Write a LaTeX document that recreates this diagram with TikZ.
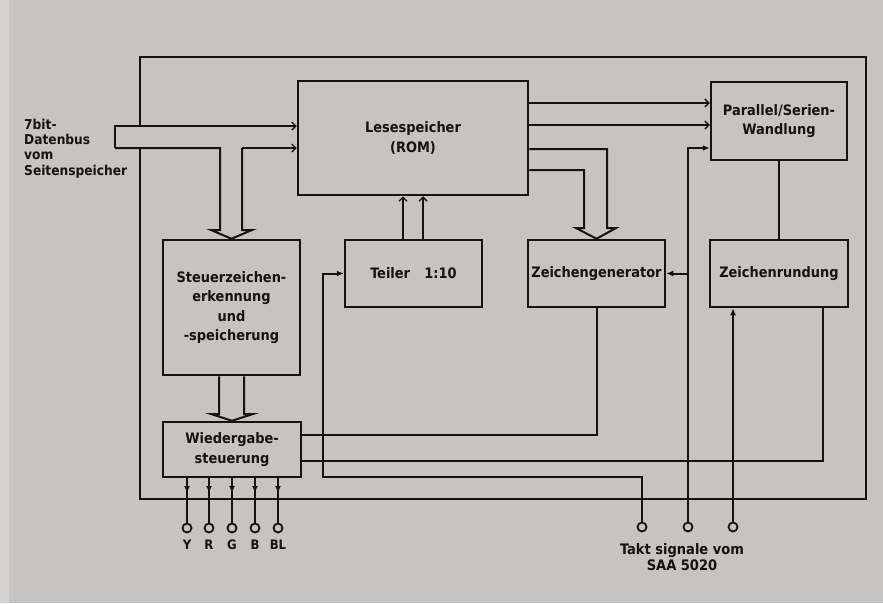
\documentclass[tikz,border=0pt]{standalone}
\usepackage{fontspec}
\setmainfont{DejaVu Sans Condensed}
\usetikzlibrary{arrows.meta}
\definecolor{bg}{RGB}{199,195,194}
\definecolor{bgl}{RGB}{214,210,208}
\definecolor{ink}{RGB}{22,18,18}
\begin{document}
\begin{tikzpicture}[x=1pt,y=-1pt,
  box/.style={draw=ink,line width=2.5pt,inner sep=0pt,align=center,text=ink,
    font=\bfseries\fontsize{14.4}{19.5}\selectfont},
  wire/.style={draw=ink,line width=2pt},
  barb/.style={-{Straight Barb[length=4pt,width=8pt,line width=1.3pt]}},
  fill arrow/.style={-{Latex[length=7pt,width=6pt]}},
  term/.style={circle,draw=ink,line width=1.8pt,fill=bg,minimum size=9pt,inner sep=0pt},
  lbl/.style={text=ink,font=\bfseries\fontsize{13.6}{15.2}\selectfont,inner sep=0pt}]
\useasboundingbox (0,0) rectangle (883,603);
\fill[bg] (0,0) rectangle (883,603);
\fill[bgl] (0,0) rectangle (9,603);

% frame (broken where the bus enters)
\draw[wire,line width=2.3pt] (140,126) -- (140,57) -- (866,57) -- (866,499) -- (140,499) -- (140,148);

% blocks
\node[box,minimum width=230pt,minimum height=114pt] (rom) at (413,138) {Lesespeicher\\(ROM)};
\node[box,minimum width=136pt,minimum height=78pt] (ps) at (779,121) {Parallel/Serien-\\Wandlung};
\node[box,minimum width=137pt,minimum height=135pt] (st) at (231.5,307.5) {Steuerzeichen-\\erkennung\\und\\-speicherung};
\node[box,minimum width=137pt,minimum height=67pt] (tl) at (413.5,273.5) {Teiler\quad 1:10};
\node[box,minimum width=137pt,minimum height=67pt] (zg) at (596.5,273.5) {Zeichengenerator};
\node[box,minimum width=138pt,minimum height=67pt] (zr) at (779,273.5) {Zeichenrundung};
\node[box,minimum width=138pt,minimum height=55pt] (ws) at (232,449.5) {Wiedergabe-\\steuerung};

% data bus input
\coordinate (busin) at (115,126);
\node[lbl,anchor=north west,align=left] (buslbl) at (24,119) {7bit-\\Datenbus\\vom\\Seitenspeicher};
\draw[wire,barb] (115,148) -- (busin) -- (rom.west |- 0,126);
\draw[wire] (115,148) -- (220,148) -- (220,230) -- (211,230) -- (st.north) -- (252,230) -- (242,230) -- (242,148);
\draw[wire,barb] (242,148) -- (rom.west |- 0,148);

% Steuer -> Wiedergabe bus
\draw[wire] (st.south -| 219,0) -- (219,414) -- (211,414) -- (ws.north) -- (253,414) -- (244,414) -- (st.south -| 244,0);

% ROM -> Parallel/Serien
\draw[wire,barb] (rom.east |- 0,103) -- (ps.west |- 0,103);
\draw[wire,barb] (rom.east |- 0,125) -- (ps.west |- 0,125);

% ROM -> Zeichengenerator bus
\draw[wire] (rom.east |- 0,149) -- (607,149) -- (607,228) -- (616,228) -- (zg.north) -- (576,228) -- (584,228) -- (584,170) -- (rom.east |- 0,170);

% Teiler -> ROM
\draw[wire,barb] (tl.north -| 403,0) -- (rom.south -| 403,0);
\draw[wire,barb] (tl.north -| 423,0) -- (rom.south -| 423,0);

% Parallel/Serien -> Zeichenrundung
\draw[wire] (ps.south) -- (zr.north);

% Zeichengenerator -> Wiedergabe
\draw[wire] (zg.south) -- (zg.south |- 0,435) -- (ws.east |- 0,435);
% Zeichenrundung -> Wiedergabe
\draw[wire] (zr.south -| 823,0) -- (823,461) -- (ws.east |- 0,461);

% clock terminals
\node[term] (t1) at (642,527) {};
\node[term] (t2) at (688,527) {};
\node[term] (t3) at (733,527) {};
\draw[wire,fill arrow] (t1.north) -- (642,477) -- (323,477) -- (tl.west -| 323,0) -- (tl.west);
\draw[wire,fill arrow] (t2.north) -- (688,148) -- (ps.west |- 0,148);
\draw[wire,fill arrow] (688,273.5) -- (zg.east);
\draw[wire,fill arrow] (t3.north) -- (zr.south -| t3);
\node[lbl,align=center,font=\bfseries\fontsize{14.5}{16.5}\selectfont] (taktlbl) at (682,557) {Takt signale vom\\SAA 5020};

% video outputs
\foreach \x/\n/\t in {187/oY/Y,209/oR/R,232/oG/G,255/oB/B,278/oBL/BL}{
  \node[term] (\n) at (\x,528) {};
  \draw[wire] (ws.south -| \x,0) -- (\n.north);
  \draw[wire,fill arrow] (ws.south -| \x,0) -- (\x,493);
  \node[lbl,font=\bfseries\fontsize{13}{14}\selectfont] (\n l) at (\x,545) {\t};
}
\end{tikzpicture}
\end{document}
